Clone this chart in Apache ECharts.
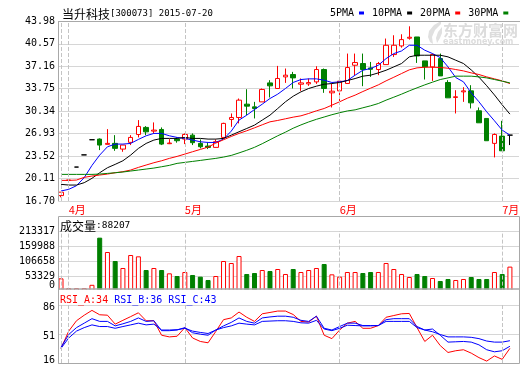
<!DOCTYPE html>
<html><head><meta charset="utf-8">
<script src="https://cdn.jsdelivr.net/npm/echarts@6/dist/echarts.min.js"></script>
<style>html,body{margin:0;padding:0;background:#fff}#c{width:520px;height:365px}</style>
</head><body><div id="c"></div>
<script>
// ---------------- data ----------------
const stockTitle = '当升科技';
const stockCode = '[300073] 2015-07-20';
const maNames = ['5PMA', '10PMA', '20PMA', '30PMA'];

const opens = [
  17.52,19.86,21.85,23.70,26.00,26.10,25.30,25.45,24.58,25.60,
  26.80,27.87,27.31,27.56,25.40,26.10,26.10,26.70,25.45,25.04,
  24.84,26.35,29.08,29.38,31.40,30.99,31.75,34.63,33.78,35.54,
  35.90,34.43,34.48,34.78,36.66,33.12,33.42,34.54,37.31,37.57,
  36.90,36.66,37.41,38.93,40.24,41.41,41.60,37.97,37.06,38.32,
  34.69,32.42,33.27,33.42,30.39,29.23,25.45,26.55,26.70];
const closes = [
  18.04,19.88,21.85,23.70,26.00,25.19,25.45,24.69,25.19,26.35,
  28.02,27.20,27.46,25.34,25.50,25.85,26.80,25.55,24.94,24.84,
  25.70,28.48,29.38,32.01,31.10,30.75,33.63,34.18,35.30,35.80,
  35.39,34.63,34.68,36.66,33.78,33.37,34.89,36.96,37.72,36.66,
  36.70,37.57,40.34,40.34,41.20,41.56,38.72,37.06,38.93,35.69,
  32.36,32.52,33.42,31.60,28.57,25.85,26.80,24.32,26.70];
const lows = [
  17.26,19.86,21.85,23.70,26.00,24.43,25.30,24.32,24.17,25.19,
  26.35,26.70,26.96,25.19,25.34,25.55,25.34,25.19,24.69,24.58,
  24.84,26.20,27.96,28.48,29.73,29.23,31.75,32.42,33.78,34.63,
  33.78,33.42,34.18,34.48,33.12,30.90,31.75,34.54,35.80,34.13,
  35.54,35.80,37.41,38.57,39.98,41.20,37.66,35.14,34.93,35.69,
  32.36,29.99,31.75,30.75,28.57,25.85,23.32,24.32,25.19];
const highs = [
  18.04,19.88,21.85,23.70,26.00,26.20,27.61,26.70,25.19,26.70,
  28.98,28.07,28.63,27.87,26.10,26.35,26.96,26.96,26.05,25.55,
  26.05,28.58,29.99,32.26,33.67,31.75,33.78,35.04,37.21,36.81,
  36.30,35.30,35.30,37.16,36.81,34.48,35.04,39.08,39.08,39.08,
  37.81,37.81,41.36,41.86,42.01,43.22,41.60,37.97,39.08,39.08,
  35.04,33.52,33.98,34.28,30.90,29.23,26.96,28.87,26.70];

const ma5 = [
  18.22,18.47,19.02,20.25,22.10,23.67,24.93,25.34,25.34,25.44,
  26.05,26.60,26.96,26.96,26.60,26.35,26.20,25.95,25.69,25.59,
  25.59,26.10,27.31,28.98,29.73,30.59,31.40,32.26,32.92,33.78,
  34.69,35.14,35.24,35.24,35.04,34.69,34.79,34.99,35.80,36.55,
  36.81,37.31,38.32,39.08,39.48,40.34,40.34,39.59,39.08,38.47,
  37.06,35.44,34.79,33.12,31.76,30.24,28.88,27.46,26.70];
const ma10 = [
  19.23,19.12,19.12,19.48,20.14,20.99,21.75,22.26,22.81,23.67,
  24.68,25.44,25.95,26.20,26.20,26.20,26.35,26.20,26.20,26.10,
  26.10,26.20,26.70,27.21,27.71,28.22,28.98,29.73,30.74,31.76,
  32.61,33.27,33.78,34.13,34.43,34.53,34.69,34.99,35.29,35.65,
  35.80,36.15,36.55,37.06,37.57,38.58,38.83,38.83,38.83,38.83,
  38.58,38.07,37.57,36.60,35.50,34.20,32.80,31.30,29.89];
const ma20 = [
  19.83,19.83,19.88,20.29,20.49,20.64,20.79,20.99,21.15,21.40,
  21.80,22.16,22.51,22.81,23.17,23.47,23.82,24.18,24.53,24.88,
  25.49,26.00,26.50,26.96,27.36,27.81,28.27,28.72,28.93,29.18,
  29.43,29.63,29.99,30.39,30.74,31.25,31.76,32.31,32.77,33.32,
  33.83,34.33,34.94,35.49,36.05,36.61,36.91,37.01,37.01,36.96,
  36.86,36.66,36.45,36.15,35.90,35.54,35.24,34.94,34.53];
const ma30 = [
  20.74,20.74,20.74,20.74,20.74,20.79,20.89,20.99,21.10,21.25,
  21.40,21.55,21.70,21.90,22.11,22.41,22.56,22.71,22.86,23.02,
  23.17,23.37,23.62,24.00,24.40,24.85,25.40,26.00,26.60,27.15,
  27.75,28.25,28.70,29.10,29.45,29.80,30.10,30.37,30.54,30.85,
  31.15,31.50,32.01,32.46,32.92,33.42,33.88,34.33,34.74,35.14,
  35.39,35.65,35.65,35.65,35.54,35.39,35.14,34.89,34.63];

const volumes = [
  46850,12000,12000,12000,24000,190470,139850,108070,83350,129260,
  124550,76280,83350,76280,64510,55090,69220,58630,52740,40970,
  55090,108070,101000,125730,62160,65690,76280,72750,79810,62160,
  79810,69220,76280,83350,97470,60980,52740,69220,69220,65690,
  69220,69220,101000,79810,62160,51560,62160,55090,48030,37440,
  44500,40970,44500,51560,44500,44500,69220,62160,88207];

const rsiA = [
  33.7,54.5,67.0,73.7,79.5,74.2,73.7,62.9,67.5,72.0,
  76.6,67.0,67.0,49.5,47.5,48.3,58.7,46.2,42.0,40.4,
  54.1,68.3,70.4,77.5,71.2,66.2,75.4,77.0,78.7,78.7,
  74.5,66.2,65.4,72.5,49.5,45.4,55.8,64.1,66.2,57.9,
  57.9,61.2,71.2,73.3,75.4,75.8,58.7,42.0,49.5,37.0,
  28.7,30.8,32.0,27.9,22.5,18.3,24.5,20.4,33.7];
const rsiB = [
  35.0,50.4,58.7,64.1,69.5,66.2,66.2,60.8,63.3,66.2,
  70.4,66.2,67.0,55.0,55.0,55.8,58.7,52.5,50.8,49.5,
  55.8,60.8,65.0,70.4,66.2,64.1,70.4,71.6,72.5,72.5,
  71.2,67.5,66.2,72.5,57.9,55.8,60.0,64.1,64.1,61.2,
  61.2,61.2,68.3,69.5,69.5,69.5,60.0,55.8,57.0,49.5,
  41.2,41.6,42.0,41.2,37.9,32.0,29.5,30.8,36.2];
const rsiC = [
  33.7,46.2,54.5,58.7,62.0,60.0,60.0,57.9,60.0,62.0,
  64.1,62.0,62.9,55.8,55.8,56.2,57.9,54.5,52.9,51.6,
  55.8,58.7,60.8,64.1,62.9,62.0,66.2,66.6,67.0,67.0,
  66.2,64.5,64.1,67.5,57.0,55.0,57.9,61.6,61.2,60.8,
  60.8,61.2,66.2,66.2,66.2,66.2,58.7,55.8,53.7,50.4,
  47.5,47.5,47.5,47.0,45.4,42.5,41.2,41.2,42.9];

// month boundaries (candle index of first day of each month) and their labels
const monthStarts = [0, 1, 16, 36, 57];
const monthNames  = ['3月', '4月', '5月', '6月', '7月'];

// tick labels
const priceTickLabels = ['16.70','20.11','23.52','26.93','30.34','33.75','37.16','40.57','43.98'];
const volTickLabels = ['0','53329','106658','159988','213317'];
const rsiTickLabels = ['16','51','86'];

// ---------------- styling ----------------
const RED = '#ff0000', GREEN = '#008000', BLUE = '#0000ff', BLACK = '#000000';
const maColors = [BLUE, BLACK, RED, GREEN];
const MONO = '"DejaVu Sans Mono", monospace';
const CJK = '"Noto Sans CJK SC", sans-serif';
const GRID_C = '#d6d6d6', FRAME_C = '#a8a8a8', DASH_C = '#c4c4c4';

const n = closes.length;
const xMin = -0.3876, xMax = 59.173;
const pMin = +priceTickLabels[0], pMax = +priceTickLabels[priceTickLabels.length - 1];
const pStep = +(priceTickLabels[1] - priceTickLabels[0]).toFixed(2);
const vMax = +volTickLabels[volTickLabels.length - 1];
const rMin = +rsiTickLabels[0], rMax = +rsiTickLabels[rsiTickLabels.length - 1];

const kData = opens.map((o, i) => {
  const c = closes[i];
  const item = { value: [i, o, c, lows[i], highs[i]] };
  if (o === c) item.itemStyle = { color: BLACK, color0: BLACK, borderColor: BLACK, borderColor0: BLACK };
  return item;
});
const volData = volumes.map((v, i) => ({
  value: [i, v],
  itemStyle: closes[i] >= opens[i]
    ? { color: '#ffffff', borderColor: RED, borderWidth: 1 }
    : { color: GREEN, borderColor: GREEN, borderWidth: 1 }
}));
const toXY = arr => arr.map((v, i) => [i, v]);

function monthMarkLine(withLabels) {
  return {
    silent: true, symbol: ['none', 'none'], animation: false,
    lineStyle: { color: DASH_C, type: [4, 2], width: 1 },
    label: { show: false },
    data: monthStarts.map((idx, k) => ({
      xAxis: idx,
      label: (withLabels && k > 0) ? {
        show: true, position: 'start', distance: 3, align: 'left', verticalAlign: 'top',
        formatter: monthNames[k], color: RED, fontFamily: CJK, fontSize: 11
      } : { show: false }
    }))
  };
}

const xAxes = [0, 1, 2].map(g => ({ type: 'value', gridIndex: g, min: xMin, max: xMax, show: false }));
const yAxisCommon = {
  axisLine: { show: false }, axisTick: { show: false },
  splitLine: { show: true, lineStyle: { color: GRID_C, width: 1 } }
};
const labelBase = { margin: 3, color: '#000', fontFamily: MONO, fontSize: 10 };

const chart = echarts.init(document.getElementById('c'), null, { renderer: 'canvas' });
chart.setOption({
  animation: false,
  backgroundColor: '#ffffff',
  grid: [
    { left: 58, right: 1, top: 21.3, height: 179.7 },
    { left: 58, right: 1, top: 231.2, height: 60.4 },
    { left: 58, right: 1, top: 305, height: 58.5 }
  ],
  xAxis: xAxes,
  yAxis: [
    Object.assign({}, yAxisCommon, {
      type: 'value', gridIndex: 0, min: pMin, max: pMax, interval: pStep,
      axisLabel: Object.assign({}, labelBase, { showMinLabel: true, showMaxLabel: true,
        formatter: v => priceTickLabels.find(s => Math.abs(+s - v) < 0.005) || '' })
    }),
    // volume axis: gridlines + non-zero labels
    Object.assign({}, yAxisCommon, {
      type: 'value', gridIndex: 1, min: 0, max: vMax, interval: vMax / 4,
      axisLabel: Object.assign({}, labelBase, { showMinLabel: false, showMaxLabel: true,
        formatter: v => volTickLabels[Math.round(v / (vMax / 4))] })
    }),
    Object.assign({}, yAxisCommon, {
      type: 'value', gridIndex: 2, min: rMin, max: rMax, interval: (rMax - rMin) / 2,
      axisLabel: Object.assign({}, labelBase, { showMinLabel: true, showMaxLabel: true,
        formatter: v => { const k = Math.round((v - rMin) / ((rMax - rMin) / 2)); return (k === 0 ? '{lo|' : '{hi|') + rsiTickLabels[k] + '}'; },
        rich: { lo: { fontFamily: MONO, fontSize: 10, color: '#000', padding: [0, 0, 6, 0] },
                hi: { fontFamily: MONO, fontSize: 10, color: '#000', padding: [4, 0, 0, 0] } } })
    }),
    // volume axis twin: only the "0" label, raised above the panel's lower edge
    {
      type: 'value', gridIndex: 1, position: 'left', min: 0, max: vMax, interval: vMax / 4,
      axisLine: { show: false }, axisTick: { show: false }, splitLine: { show: false },
      axisLabel: Object.assign({}, labelBase, { showMinLabel: true, showMaxLabel: false,
        formatter: v => (Math.round(v / (vMax / 4)) === 0 ? '{z|' + volTickLabels[0] + '}' : ''),
        rich: { z: { fontFamily: MONO, fontSize: 10, color: '#000', padding: [0, 0, 12, 0] } } })
    }
  ],
  legend: {
    data: maNames, right: 11.7, top: 8, padding: 0, align: 'right', icon: 'rect',
    itemWidth: 5, itemHeight: 3, itemGap: 8, selectedMode: false,
    textStyle: { fontFamily: MONO, fontSize: 10, color: '#000' }
  },
  series: [
    {
      type: 'candlestick', name: 'K', xAxisIndex: 0, yAxisIndex: 0, barWidth: 5, z: 2,
      itemStyle: { color: '#ffffff', color0: GREEN, borderColor: RED, borderColor0: GREEN, borderWidth: 1 },
      data: kData,
      markLine: monthMarkLine(true)
    },
    ...[ma5, ma10, ma20, ma30].map((arr, k) => ({
      type: 'line', name: maNames[k], xAxisIndex: 0, yAxisIndex: 0, z: 3,
      data: toXY(arr), showSymbol: false, symbol: 'none',
      color: maColors[k], itemStyle: { color: maColors[k] },
      lineStyle: { color: maColors[k], width: 1 }
    })),
    {
      type: 'bar', name: '成交量', xAxisIndex: 1, yAxisIndex: 1, barWidth: 5,
      data: volData, markLine: monthMarkLine(false)
    },
    ...[rsiA, rsiB, rsiC].map((arr, k) => ({
      type: 'line', name: 'RSI' + k, xAxisIndex: 2, yAxisIndex: 2, z: 3,
      data: toXY(arr), showSymbol: false, symbol: 'none',
      lineStyle: { color: k === 0 ? RED : BLUE, width: 1 },
      markLine: k === 0 ? monthMarkLine(false) : undefined
    }))
  ],
  graphic: [
    // watermark
    { type: 'polygon', silent: true, z: 0,
      shape: { points: [[441, 21], [434, 25], [429, 31], [428, 37], [430, 42], [433, 44], [432, 37], [435, 30], [441, 24]] },
      style: { fill: '#e0e0e0' } },
    { type: 'polygon', silent: true, z: 0,
      shape: { points: [[442, 27], [438, 32], [436, 38], [437, 43], [440, 38], [442, 33]] },
      style: { fill: '#e0e0e0' } },
    { type: 'text', silent: true, z: 0, x: 443, y: 30,
      style: { text: '东方财富网', fill: '#dcdcdc', font: 'bold 15px ' + CJK, verticalAlign: 'middle' } },
    { type: 'text', silent: true, z: 0, x: 443, y: 42,
      style: { text: 'eastmoney.com', fill: '#dcdcdc', font: 'bold 8px "DejaVu Sans", sans-serif', verticalAlign: 'middle' } },
    // cover for the volume panel's lower edge
    { type: 'rect', silent: true, z: 50, shape: { x: 59, y: 289.5, width: 460, height: 3 }, style: { fill: '#ffffff' } },
    // frames
    { type: 'line', silent: true, z: 60, shape: { x1: 58, y1: 21.5, x2: 520, y2: 21.5 }, style: { stroke: FRAME_C, lineWidth: 1 } },
    { type: 'line', silent: true, z: 60, shape: { x1: 58.5, y1: 21.5, x2: 58.5, y2: 201 }, style: { stroke: FRAME_C, lineWidth: 1 } },
    { type: 'rect', silent: true, z: 60, shape: { x: 58.5, y: 216.5, width: 461, height: 72.5 }, style: { fill: 'none', stroke: FRAME_C, lineWidth: 1 } },
    { type: 'rect', silent: true, z: 60, shape: { x: 58.5, y: 289, width: 461, height: 74.5 }, style: { fill: 'none', stroke: FRAME_C, lineWidth: 1 } },
    // title
    { type: 'text', z: 60, x: 62, y: 14,
      style: { text: '{c|' + stockTitle + '}{a|' + stockCode + '}', verticalAlign: 'middle',
        rich: { c: { fontFamily: CJK, fontSize: 12, fill: '#000' }, a: { fontFamily: MONO, fontSize: 9, fill: '#000' } } } },
    // volume header
    { type: 'text', z: 60, x: 60, y: 226,
      style: { text: '{c|成交量}{a|:' + volumes[n - 1] + '}', verticalAlign: 'middle',
        rich: { c: { fontFamily: CJK, fontSize: 12, fill: '#000' }, a: { fontFamily: MONO, fontSize: 9.5, fill: '#000' } } } },
    // RSI header
    { type: 'text', z: 60, x: 60, y: 300,
      style: { text: '{r|RSI_A:' + Math.round(rsiA[n - 1]) + '} {b|RSI_B:' + Math.round(rsiB[n - 1]) + '} {b|RSI_C:' + Math.round(rsiC[n - 1]) + '}',
        verticalAlign: 'middle',
        rich: { r: { fontFamily: MONO, fontSize: 10, fill: RED }, b: { fontFamily: MONO, fontSize: 10, fill: BLUE } },
        font: '10px ' + MONO } }
  ]
});
</script>
</body></html>
